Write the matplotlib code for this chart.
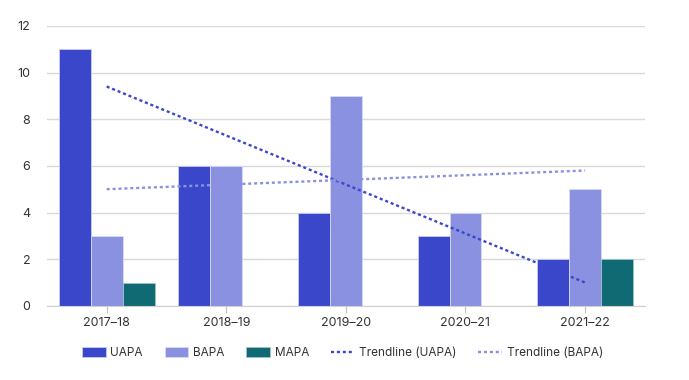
import matplotlib
matplotlib.use("Agg")
import matplotlib.pyplot as plt
import numpy as np
from matplotlib.patches import Patch
from matplotlib.lines import Line2D

plt.rcParams['font.family'] = ['Inter', 'DejaVu Sans']

categories = ["2017–18", "2018–19", "2019–20", "2020–21", "2021–22"]
uapa = [11, 6, 4, 3, 2]
bapa = [3, 6, 9, 4, 5]
mapa = [1, 0, 0, 0, 2]

c_uapa = "#3a47cb"
c_bapa = "#8a91e0"
c_mapa = "#0f6a73"

fig = plt.figure(figsize=(6.89, 3.8), dpi=100)
ax = fig.add_axes([0.068, 0.195, 0.868, 0.737])

x = np.arange(len(categories))
w = 0.267
ax.bar(x - w, uapa, w, color=c_uapa, edgecolor="#c8cbf0", linewidth=0.6, zorder=2)
ax.bar(x, bapa, w, color=c_bapa, edgecolor="#d6d9f5", linewidth=0.6, zorder=2)
ax.bar(x + w, mapa, w, color=c_mapa, edgecolor="#9fc3c6", linewidth=0.6, zorder=2)

dash = (0, (1.3, 1.2))
pu = np.polyfit(x, uapa, 1)
pb = np.polyfit(x, bapa, 1)
ax.plot(x, np.polyval(pu, x), color=c_uapa, linestyle=dash, linewidth=1.7, zorder=3)
ax.plot(x, np.polyval(pb, x), color=c_bapa, linestyle=dash, linewidth=1.7, zorder=3)

ax.set_xlim(-0.5, 4.5)
ax.set_ylim(0, 12)
ax.set_yticks([0, 2, 4, 6, 8, 10, 12])
ax.set_xticks(x)
ax.set_xticklabels(categories)
ax.grid(axis="y", color="#d9d9d9", linewidth=1, zorder=0)
for s in ["top", "right", "left"]:
    ax.spines[s].set_visible(False)
ax.spines["bottom"].set_color("#d0d0d0")
ax.tick_params(axis="y", length=0, labelsize=9, colors="#333333", pad=12)
ax.tick_params(axis="x", length=5, color="#c0c0c0", labelsize=9, labelcolor="#333333", pad=3)

handles = [
    Patch(facecolor=c_uapa, edgecolor="#c8cbf0", linewidth=0.6),
    Patch(facecolor=c_bapa, edgecolor="#d6d9f5", linewidth=0.6),
    Patch(facecolor=c_mapa, edgecolor="#9fc3c6", linewidth=0.6),
    Line2D([0], [0], color=c_uapa, linestyle=dash, linewidth=1.7),
    Line2D([0], [0], color=c_bapa, linestyle=dash, linewidth=1.7),
]
labels = ["UAPA", "BAPA", "MAPA", "Trendline (UAPA)", "Trendline (BAPA)"]
fig.legend(handles, labels, loc="center", bbox_to_anchor=(0.497, 0.071), ncol=5,
           frameon=False, fontsize=8.5, handlelength=2.0, handleheight=1.0,
           columnspacing=1.85, handletextpad=0.4, labelcolor="#333333")

fig.savefig("out.png", dpi=100)
